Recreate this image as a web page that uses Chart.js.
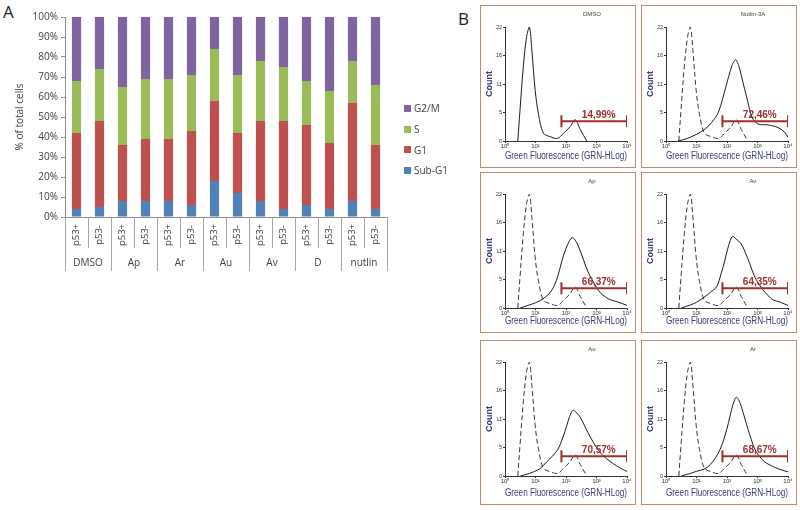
<!DOCTYPE html>
<html>
<head>
<meta charset="utf-8">
<script src="https://cdn.jsdelivr.net/npm/chart.js@4.4.0/dist/chart.umd.min.js"></script>
<style>
  body { margin: 0; width: 800px; height: 510px; background: #fff; position: relative; overflow: hidden; font-family: "Open Sans", sans-serif; }
  .panel-letter { position: absolute; font-size: 17px; color: #222; }
  #cellCycle { position: absolute; left: 0; top: 0; }
  #legend { position: absolute; left: 404px; top: 98px; font-size: 10px; color: #404040; }
  #legend div { height: 20.7px; display: flex; align-items: center; }
  #legend .sw { display: inline-block; width: 7px; height: 7px; margin-right: 3px; }
  .box { position: absolute; border: 1px solid #c08a70; background: #fff; }
  .box canvas { position: absolute; left: 0; top: 0; }
</style>
</head>
<body>
<div class="panel-letter" style="left:3px;top:0px;">A</div>
<div class="panel-letter" style="left:458px;top:7px;">B</div>
<canvas id="cellCycle" width="460" height="290"></canvas>
<div id="legend"></div>

<script>
// ---- Panel A: cell cycle distribution (%) ----
const treatments = ['DMSO', 'Ap', 'Ar', 'Au', 'Av', 'D', 'nutlin'];
const p53Status = ['p53+', 'p53-'];
const subG1 = [4, 5, 8, 8, 8, 6, 18, 12, 8, 4, 6, 4, 8, 4];
const g1    = [38, 43, 28, 31, 31, 37, 40, 30, 40, 44, 40, 33, 49, 32];
const sPh   = [26, 26, 29, 30, 30, 28, 26, 29, 30, 27, 22, 26, 21, 30];
const g2m   = [32, 26, 35, 31, 31, 29, 16, 29, 22, 25, 32, 37, 22, 34];

// ---- Panel B: GFP histograms (x = log10 decade, y = count) ----
const panelNames = ['DMSO', 'Nutlin-3A', 'Ap', 'Av', 'Au', 'Ar'];
const gatePercent = ['14,99%', '72,46%', '66,37%', '64,35%', '70,57%', '68,67%'];
const gateRange = [1.85, 4.0];
const gateLevel = 3.8;
const countTicks = [0, 5.5, 11, 16.5, 22];
const decadeTicks = ['10⁰', '10¹', '10²', '10³', '10⁴'];

const dmsoCounts = [[0.42,0],[0.49,5.8],[0.6,14.3],[0.71,20.2],[0.8,22],[0.88,17.6],[0.99,9.7],[1.1,5.1],
  [1.26,1.5],[1.48,0.85],[1.72,0.5],[1.92,1.5],[2.14,2.8],[2.3,4.1],[2.47,2.2],[2.68,0]];
const nutlinCounts = [[0.4,0],[0.7,0.5],[1.0,1.3],[1.3,2.4],[1.5,3.6],[1.72,5.6],[1.97,10.6],[2.15,14.3],
  [2.28,15.7],[2.38,14.6],[2.47,12.6],[2.68,7.6],[2.82,4.6],[3.01,3.3],[3.34,3.1],[3.67,2.6],[3.89,1.7],[4.0,0.7]];
const apCounts = [[0.5,0],[0.8,0.6],[1.0,1.0],[1.28,1.9],[1.45,2.8],[1.6,4.1],[1.75,6.5],[1.87,9.2],[2.0,11.5],
  [2.1,12.8],[2.2,13.6],[2.3,13.1],[2.4,12.0],[2.58,9.2],[2.72,7.0],[2.86,5.4],[3.0,4.0],[3.13,2.9],[3.3,2.1],
  [3.45,1.6],[3.73,1.1],[4.0,0.5]];
const avCounts = [[0.5,0],[0.8,0.6],[1.0,1.1],[1.28,2.2],[1.45,3.0],[1.66,4.1],[1.8,6.5],[1.93,9.2],[2.05,12.0],
  [2.18,13.8],[2.3,13.3],[2.45,12.5],[2.58,11.0],[2.75,8.5],[2.91,6.0],[3.05,4.6],[3.18,3.5],[3.35,2.4],
  [3.5,1.6],[3.75,1.1],[4.0,0.5]];
const auCounts = [[0.5,0],[0.8,0.5],[1.14,1.4],[1.36,2.7],[1.55,3.8],[1.74,5.2],[1.9,7.5],[2.02,9.6],[2.12,11.5],
  [2.23,12.7],[2.33,12.3],[2.45,11.5],[2.6,9.8],[2.78,7.7],[3.0,5.5],[3.22,3.9],[3.45,2.8],[3.65,2.0],
  [3.85,1.3],[4.0,0.9]];
const arCounts = [[0.5,0],[0.8,0.5],[1.0,0.9],[1.28,1.4],[1.45,2.2],[1.6,3.3],[1.78,5.2],[1.93,7.7],[2.05,10.3],
  [2.15,12.8],[2.25,14.7],[2.31,15.2],[2.39,14.6],[2.47,13.4],[2.58,11.2],[2.69,9.0],[2.8,7.0],[2.91,5.2],
  [3.05,3.9],[3.24,2.7],[3.45,2.0],[3.67,1.4],[4.0,0.8]];
const sampleCounts = [dmsoCounts, nutlinCounts, apCounts, avCounts, auCounts, arCounts];

Chart.defaults.animation = false;
Chart.defaults.font.family = "'Open Sans', sans-serif";

const phaseColors = { 'Sub-G1': '#4f81bd', 'G1': '#c0504d', 'S': '#9bbb59', 'G2/M': '#8064a2' };
const barLabels = treatments.flatMap(() => p53Status);

// two-level category axis (p53 status / treatment), drawn under the plot
const groupAxis = {
  id: 'groupAxis',
  afterDraw(chart) {
    const { ctx, chartArea: a, scales: { x } } = chart;
    const n = barLabels.length;
    const step = (a.right - a.left) / n;
    ctx.save();
    ctx.strokeStyle = '#a6a6a6';
    ctx.lineWidth = 1;
    for (let i = 0; i <= n; i++) {
      const px = Math.round(a.left + i * step) + 0.5;
      ctx.beginPath();
      ctx.moveTo(px, a.bottom);
      ctx.lineTo(px, a.bottom + (i % 2 ? 31 : 54));
      ctx.stroke();
    }
    ctx.fillStyle = '#404040';
    ctx.font = "9.5px 'Open Sans'";
    ctx.textAlign = 'center';
    ctx.textBaseline = 'middle';
    barLabels.forEach((lab, i) => {
      const px = x.getPixelForValue(i);
      ctx.save();
      ctx.translate(px, a.bottom + 18);
      ctx.rotate(-Math.PI / 2);
      ctx.fillText(lab, 0, 0);
      ctx.restore();
    });
    ctx.font = "10px 'Open Sans'";
    treatments.forEach((t, g) => {
      const px = a.left + (g * 2 + 1) * step;
      ctx.fillText(t, px, a.bottom + 46);
    });
    ctx.restore();
  }
};

new Chart(document.getElementById('cellCycle'), {
  type: 'bar',
  data: {
    labels: barLabels,
    datasets: [
      { label: 'Sub-G1', data: subG1, backgroundColor: phaseColors['Sub-G1'] },
      { label: 'G1', data: g1, backgroundColor: phaseColors['G1'] },
      { label: 'S', data: sPh, backgroundColor: phaseColors['S'] },
      { label: 'G2/M', data: g2m, backgroundColor: phaseColors['G2/M'] }
    ]
  },
  options: {
    responsive: false,
    layout: { padding: { left: 0, top: 17, right: 73, bottom: 0 } },
    datasets: { bar: { categoryPercentage: 0.8, barPercentage: 0.5 } },
    scales: {
      x: {
        stacked: true,
        grid: { display: false },
        ticks: { display: false },
        border: { color: '#8c8c8c' },
        afterFit: s => { s.height = 73; }
      },
      y: {
        stacked: true,
        min: 0, max: 100,
        ticks: { stepSize: 10, callback: v => v + '%', color: '#404040', font: { size: 10 }, padding: 3 },
        grid: { drawOnChartArea: false, tickLength: 4, color: '#8c8c8c' },
        border: { color: '#8c8c8c' },
        title: { display: true, text: '% of total cells', color: '#404040', font: { size: 10 }, padding: { top: 14 } },
        afterFit: s => { s.width = 65; }
      }
    },
    plugins: { legend: { display: false }, tooltip: { enabled: false } }
  },
  plugins: [groupAxis]
});

// legend, top to bottom as in the figure
const legendEl = document.getElementById('legend');
['G2/M', 'S', 'G1', 'Sub-G1'].forEach(name => {
  legendEl.innerHTML += `<div><span class="sw" style="background:${phaseColors[name]}"></span>${name}</div>`;
});

// ---- Panel B ----
const boxes = [
  { left: 480, top: 5, w: 156, h: 163 }, { left: 641, top: 5, w: 156, h: 163 },
  { left: 480, top: 172, w: 156, h: 161 }, { left: 641, top: 172, w: 156, h: 161 },
  { left: 480, top: 340, w: 156, h: 165 }, { left: 641, top: 340, w: 156, h: 165 }
];
const navy = '#363a78';
const gateColor = '#9e2f2f';

const histDecor = {
  id: 'histDecor',
  afterDraw(chart) {
    const { ctx, scales: { x, y } } = chart;
    const idx = chart.options.panelIndex;
    ctx.save();
    ctx.fillStyle = '#444';
    ctx.font = "6px 'Liberation Sans'";
    ctx.textAlign = 'center';
    ctx.fillText(panelNames[idx], chart.width * 0.72, 10);
    ctx.fillStyle = gateColor;
    ctx.font = "bold 10px 'Liberation Sans'";
    ctx.textBaseline = 'bottom';
    const mid = (gateRange[0] + gateRange[1]) / 2 + 0.15;
    ctx.fillText(gatePercent[idx], x.getPixelForValue(mid), y.getPixelForValue(gateLevel) - 1);
    ctx.restore();
  }
};

boxes.forEach((b, i) => {
  const div = document.createElement('div');
  div.className = 'box';
  Object.assign(div.style, { left: b.left + 'px', top: b.top + 'px', width: (b.w - 2) + 'px', height: (b.h - 2) + 'px' });
  const cv = document.createElement('canvas');
  cv.width = b.w - 2;
  cv.height = b.h - 2;
  div.appendChild(cv);
  document.body.appendChild(div);

  const toXY = arr => arr.map(([x, y]) => ({ x, y }));
  const datasets = [{
    data: gateRange.map(v => ({ x: v, y: gateLevel })),
    borderColor: gateColor, borderWidth: 2,
    pointStyle: 'line', rotation: 90, pointRadius: 6, pointBorderColor: gateColor, pointBorderWidth: 2,
    order: 0
  }, {
    data: toXY(sampleCounts[i]),
    borderColor: '#1a1a1a', borderWidth: 1, pointRadius: 0, tension: 0.35, order: 1
  }];
  if (i > 0) {
    datasets.push({
      data: toXY(dmsoCounts),
      borderColor: '#333', borderWidth: 1, borderDash: [5, 3], pointRadius: 0, tension: 0.35, order: 2
    });
  }

  new Chart(cv, {
    type: 'line',
    data: { datasets },
    options: {
      panelIndex: i,
      responsive: false,
      layout: { padding: { top: 21, right: 8 } },
      scales: {
        x: {
          type: 'linear', min: 0, max: 4,
          ticks: { stepSize: 1, callback: v => decadeTicks[v], color: '#333', font: { size: 6, family: "'Liberation Sans'" }, padding: 0, maxRotation: 0 },
          grid: { drawOnChartArea: false, tickLength: 2, color: '#333' },
          border: { color: '#333' },
          title: { display: true, text: 'Green Fluorescence (GRN-HLog)', color: navy,
                   font: { size: 10, family: "'Liberation Sans'" }, padding: { top: 0, bottom: 5 } },
          afterFit: s => { s.height = b.h - 2 - 21 - 114; }
        },
        y: {
          min: 0, max: 22,
          afterBuildTicks: s => { s.ticks = countTicks.map(v => ({ value: v })); },
          ticks: { callback: v => Math.floor(v), color: '#333', font: { size: 5.5, family: "'Liberation Sans'" }, padding: 1 },
          grid: { drawOnChartArea: false, tickLength: 2, color: '#333' },
          border: { color: '#333' },
          title: { display: true, text: 'Count', color: navy, font: { size: 9, weight: 'bold', family: "'Liberation Sans'" }, padding: { top: 3 } },
          afterFit: s => { s.width = 24; }
        }
      },
      plugins: { legend: { display: false }, tooltip: { enabled: false } }
    },
    plugins: [histDecor]
  });
});
</script>
</body>
</html>
